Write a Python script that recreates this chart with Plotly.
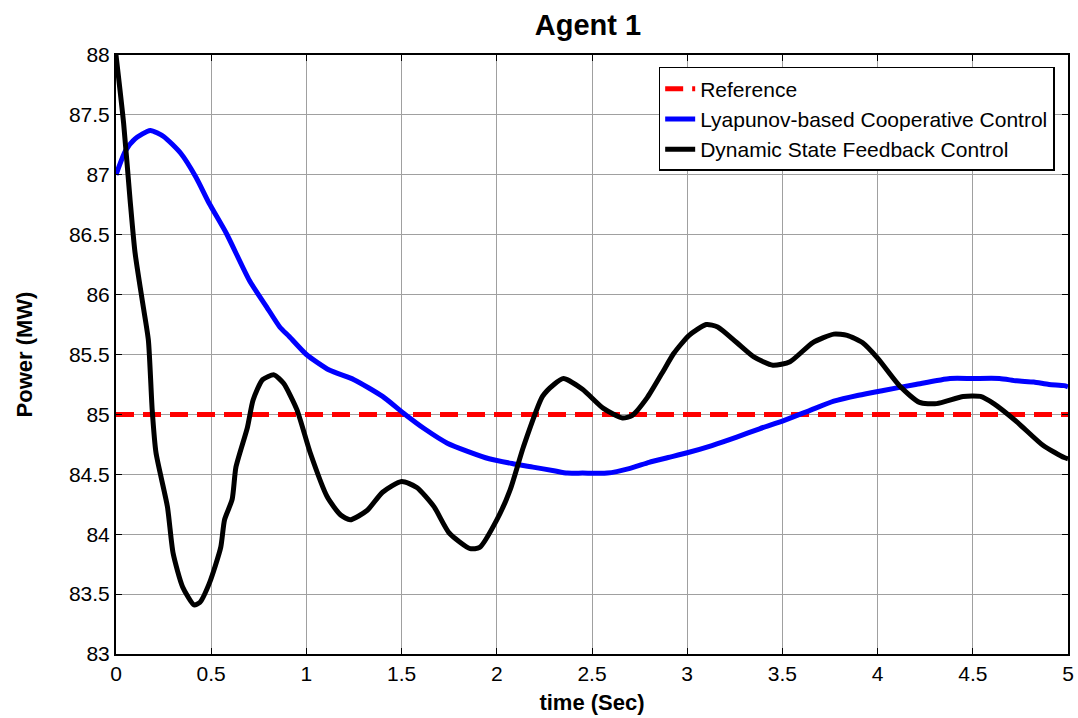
import plotly.graph_objects as go

# Reference
ref_t = [0, 5]
ref_p = [85, 85]

# Lyapunov-based Cooperative Control
lyap_t = [0, 0.05, 0.1, 0.18, 0.25, 0.34, 0.42, 0.49, 0.58, 0.70, 0.79, 0.86, 0.91, 1.0, 1.12, 1.25,
          1.40, 1.51, 1.62, 1.74, 1.85, 1.96, 2.08, 2.19, 2.30, 2.37, 2.45, 2.58, 2.70, 2.80, 2.90,
          3.0, 3.13, 3.26, 3.38, 3.51, 3.64, 3.77, 3.90, 4.03, 4.20, 4.38, 4.50, 4.64, 4.73, 4.82,
          4.90, 4.98, 5.0]
lyap_p = [87.0, 87.2, 87.3, 87.37, 87.32, 87.18, 86.98, 86.76, 86.51, 86.12, 85.90, 85.73, 85.65,
          85.50, 85.37, 85.29, 85.15, 85.01, 84.88, 84.76, 84.69, 84.63, 84.59, 84.56, 84.53,
          84.51, 84.51, 84.51, 84.55, 84.60, 84.64, 84.68, 84.74, 84.81, 84.88, 84.95, 85.03,
          85.11, 85.16, 85.20, 85.25, 85.30, 85.30, 85.30, 85.28, 85.27, 85.25, 85.24, 85.23]

# Dynamic State Feedback Control
dsf_t = [0, 0.04, 0.074, 0.10, 0.14, 0.17, 0.19, 0.21, 0.27, 0.30, 0.35, 0.41, 0.44, 0.49, 0.55,
         0.57, 0.61, 0.63, 0.69, 0.72, 0.77, 0.83, 0.88, 0.95, 1.02, 1.11, 1.18, 1.23, 1.32, 1.40,
         1.50, 1.58, 1.67, 1.75, 1.86, 1.91, 2.0, 2.07, 2.14, 2.24, 2.30, 2.35, 2.45, 2.56, 2.66,
         2.71, 2.79, 2.87, 2.93, 3.01, 3.10, 3.16, 3.26, 3.35, 3.45, 3.54, 3.66, 3.77, 3.84, 3.92,
         4.0, 4.12, 4.22, 4.31, 4.45, 4.54, 4.61, 4.73, 4.87, 4.98, 5.0]
dsf_p = [88.0, 87.43, 86.79, 86.35, 85.93, 85.62, 85.04, 84.68, 84.23, 83.84, 83.56, 83.41, 83.43,
         83.59, 83.89, 84.12, 84.29, 84.56, 84.89, 85.12, 85.29, 85.33, 85.26, 85.04, 84.68,
         84.31, 84.16, 84.12, 84.20, 84.35, 84.44, 84.39, 84.23, 84.01, 83.88, 83.89, 84.12,
         84.37, 84.73, 85.15, 85.25, 85.30, 85.21, 85.05, 84.97, 84.99, 85.14, 85.35, 85.51,
         85.66, 85.75, 85.73, 85.60, 85.48, 85.41, 85.44, 85.60, 85.67, 85.66, 85.60, 85.47,
         85.23, 85.10, 85.09, 85.15, 85.15, 85.09, 84.94, 84.74, 84.64, 84.63]

x_ticks = [0, 0.5, 1, 1.5, 2, 2.5, 3, 3.5, 4, 4.5, 5]
x_labels = ["0", "0.5", "1", "1.5", "2", "2.5", "3", "3.5", "4", "4.5", "5"]
y_ticks = [83, 83.5, 84, 84.5, 85, 85.5, 86, 86.5, 87, 87.5, 88]
y_labels = ["83", "83.5", "84", "84.5", "85", "85.5", "86", "86.5", "87", "87.5", "88"]

fig = go.Figure()
fig.add_trace(go.Scatter(x=ref_t, y=ref_p, mode="lines", name="Reference",
                         line=dict(color="#ff0000", width=5, dash="18px,9px")))
fig.add_trace(go.Scatter(x=lyap_t, y=lyap_p, mode="lines", name="Lyapunov-based Cooperative Control",
                         line=dict(color="#0000ff", width=5, shape="spline", smoothing=0.6)))
fig.add_trace(go.Scatter(x=dsf_t, y=dsf_p, mode="lines", name="Dynamic State Feedback Control",
                         line=dict(color="#000000", width=5, shape="spline", smoothing=0.6)))

font_family = "Liberation Sans, Arial, sans-serif"
fig.update_layout(
    width=1078, height=718,
    margin=dict(l=116, r=10, t=55, b=64, autoexpand=False),
    paper_bgcolor="white", plot_bgcolor="white",
    font=dict(family=font_family, size=21, color="black"),
    title=dict(text="<b>Agent 1</b>", x=588 / 1078, xanchor="center",
               y=1 - 25 / 718, yanchor="middle", font=dict(size=29, color="black")),
    showlegend=True,
    legend=dict(x=0.986, xanchor="right", y=0.98, yanchor="top",
                bgcolor="white", bordercolor="black", borderwidth=1.5,
                font=dict(size=21, color="black"), tracegroupgap=2),
    xaxis=dict(range=[0, 5], tickvals=x_ticks, ticktext=x_labels, automargin=False,
               showgrid=True, gridcolor="#a0a0a0", gridwidth=1,
               showline=True, linecolor="black", linewidth=2, mirror="ticks",
               ticks="inside", ticklen=6, tickcolor="black", zeroline=False,
               tickfont=dict(size=21),
               title=dict(text="<b>time (Sec)</b>", font=dict(size=22), standoff=10)),
    yaxis=dict(range=[83, 88], tickvals=y_ticks, ticktext=y_labels, automargin=False,
               showgrid=True, gridcolor="#a0a0a0", gridwidth=1,
               showline=True, linecolor="black", linewidth=2, mirror="ticks",
               ticks="inside", ticklen=6, tickcolor="black", zeroline=False,
               tickfont=dict(size=21),
               title=dict(text="<b>Power (MW)</b>", font=dict(size=22), standoff=30)),
)

fig.write_html("out.html")
